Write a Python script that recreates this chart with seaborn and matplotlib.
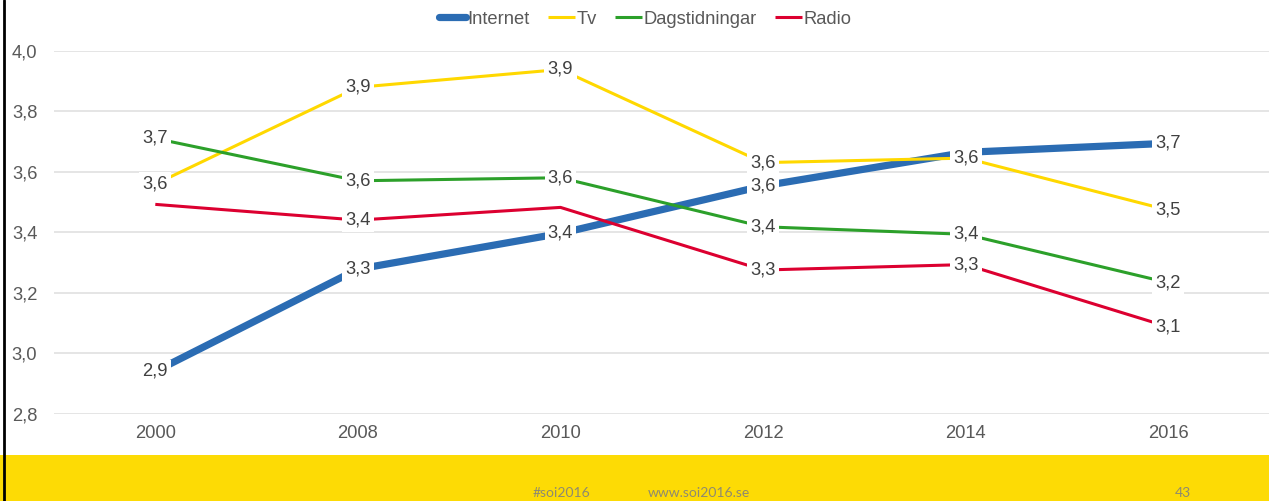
import matplotlib
matplotlib.use("Agg")
import matplotlib.pyplot as plt
from matplotlib.lines import Line2D
from matplotlib.patches import Rectangle
import seaborn as sns
import pandas as pd

# Survey years (categorical axis) and mean scores per medium
years = ["2000", "2008", "2010", "2012", "2014", "2016"]
internet = [2.940, 3.278, 3.396, 3.553, 3.664, 3.694]
tv = [3.559, 3.879, 3.938, 3.630, 3.645, 3.473]
dagstidningar = [3.710, 3.570, 3.580, 3.418, 3.393, 3.233]
radio = [3.492, 3.440, 3.482, 3.275, 3.293, 3.087]

series_names = ["Internet", "Tv", "Dagstidningar", "Radio"]
y_ticks = [2.8, 3.0, 3.2, 3.4, 3.6, 3.8, 4.0]

# data labels that are not shown (series, year)
hidden_labels = {("Internet", "2014"), ("Radio", "2000"), ("Radio", "2010")}

footer_left = "#soi2016"
footer_mid = "www.soi2016.se"
footer_page = "43"

colors = {"Internet": "#2B6CB3", "Tv": "#FFD800",
          "Dagstidningar": "#2CA02A", "Radio": "#DC0030"}
widths = {"Internet": 5.2, "Tv": 2.2, "Dagstidningar": 2.2, "Radio": 2.2}
FS = 13.2

sns.set_theme(style="white")
plt.rcParams["font.family"] = ["Liberation Sans", "DejaVu Sans"]

values = {"Internet": internet, "Tv": tv,
          "Dagstidningar": dagstidningar, "Radio": radio}
rows = []
for name in series_names:
    for i, (yr, v) in enumerate(zip(years, values[name])):
        rows.append({"pos": i, "year": yr, "medium": name, "value": v})
df = pd.DataFrame(rows)

W, H = 1269, 501
fig = plt.figure(figsize=(W / 100, H / 100), dpi=100)
fig.patch.set_facecolor("white")

# yellow footer band and black left edge
fig.patches.append(Rectangle((0, 0), 1, 46 / H, transform=fig.transFigure,
                             facecolor="#FDDB05", edgecolor="none", zorder=0))
fig.lines.append(Line2D([4 / W, 4 / W], [0, 1], transform=fig.transFigure,
                        color="black", linewidth=2.0, zorder=5))

ax = fig.add_axes([54 / W, 1 - 413.7 / H, (1269.6 - 54) / W, (413.7 - 50.7) / H])
ax.set_facecolor("none")

for name in series_names:
    sub = df[df["medium"] == name]
    sns.lineplot(data=sub, x="pos", y="value", ax=ax, color=colors[name],
                 linewidth=widths[name], legend=False, zorder=3,
                 solid_capstyle="butt")

# data labels centred on each point with a white box
for name in series_names:
    sub = df[df["medium"] == name]
    for _, r in sub.iterrows():
        if (name, r["year"]) in hidden_labels:
            continue
        ax.text(r["pos"], r["value"], f"{r['value']:.1f}".replace(".", ","),
                ha="center", va="center", fontsize=FS, color="#404040",
                zorder=6,
                bbox=dict(boxstyle="square,pad=0.18", facecolor="white",
                          edgecolor="none"))

ax.set_xlim(-0.5, len(years) - 0.5)
ax.set_ylim(2.8, 4.0)
ax.set_xticks(range(len(years)))
ax.set_xticklabels(years)
ax.set_yticks(y_ticks)
ax.set_yticklabels([f"{t:.1f}".replace(".", ",") for t in y_ticks])
ax.tick_params(axis="both", length=0, labelsize=FS, labelcolor="#595959")
ax.tick_params(axis="y", pad=12)
ax.tick_params(axis="x", pad=8)
ax.set_xlabel("")
ax.set_ylabel("")
ax.grid(axis="y", color="#E0E0E0", linewidth=1.2, zorder=0)
ax.grid(axis="x", visible=False)
ax.set_axisbelow(True)
for s in ax.spines.values():
    s.set_visible(False)

handles = [Line2D([0], [0], color=colors[n], linewidth=widths[n],
                  solid_capstyle="round" if n == "Internet" else "butt")
           for n in series_names]
fig.legend(handles, series_names, loc="center",
           bbox_to_anchor=(645 / W, 1 - 19 / H), ncol=4, frameon=False,
           fontsize=FS, handlelength=1.5, handletextpad=0.05,
           columnspacing=1.0, labelcolor="#595959")

foot_kw = dict(transform=fig.transFigure, fontsize=10, color="#8E8A70",
               va="top", family=["Lato", "DejaVu Sans"], zorder=2)
fig.text(533 / W, 1 - 487 / H, footer_left, ha="left", **foot_kw)
fig.text(648 / W, 1 - 487 / H, footer_mid, ha="left", **foot_kw)
fig.text(1183 / W, 1 - 487 / H, footer_page, ha="center", **foot_kw)

fig.savefig("out.png", dpi=100)
